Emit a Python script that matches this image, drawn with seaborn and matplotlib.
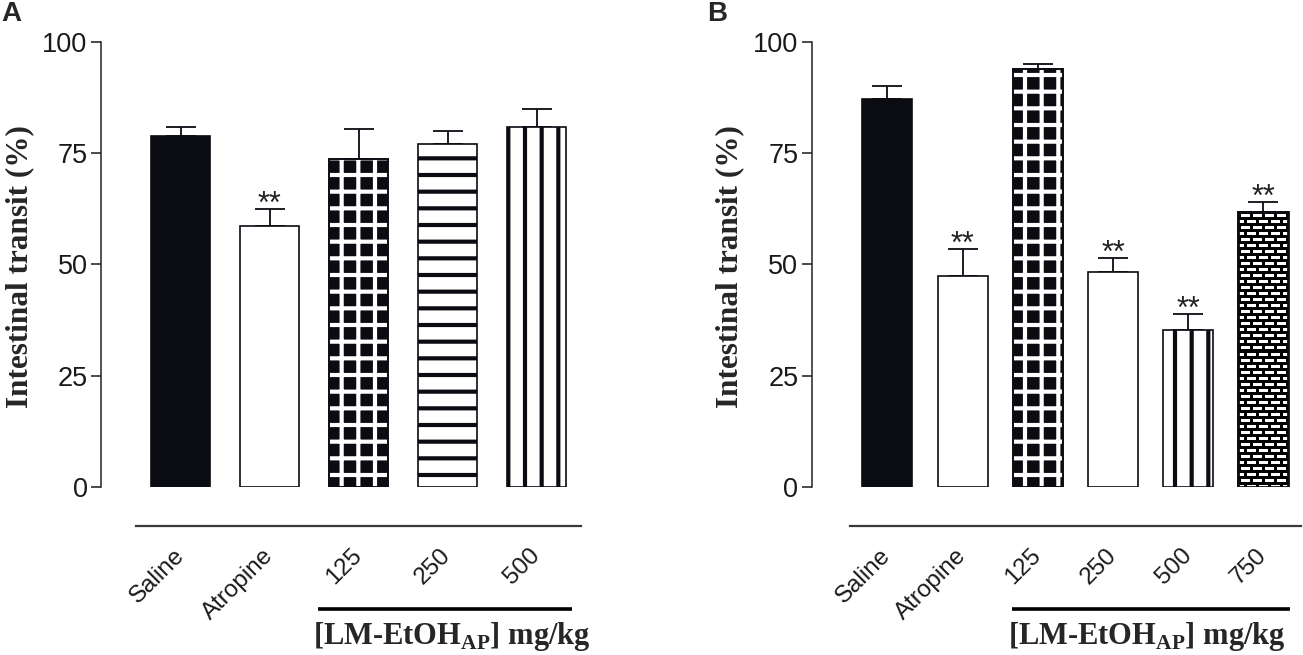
import numpy as np
import pandas as pd
import seaborn as sns
import matplotlib.pyplot as plt
from matplotlib.patches import Rectangle
from matplotlib.transforms import blended_transform_factory


# Painel A
groups_a = ["Saline", "Atropine", "125", "250", "500"]
transit_a = [78.8, 58.6, 73.7, 77.0, 80.8]
sem_a = [2.1, 3.8, 6.6, 3.0, 4.0]
stars_a = ["", "**", "", "", ""]
fill_a = ["solid", "open", "grid", "hlines", "vlines"]

# Painel B
groups_b = ["Saline", "Atropine", "125", "250", "500", "750"]
transit_b = [87.1, 47.4, 93.9, 48.2, 35.2, 61.8]
sem_b = [3.0, 6.0, 1.2, 3.2, 3.6, 2.2]
stars_b = ["", "**", "", "**", "**", "**"]
fill_b = ["solid", "open", "grid", "open", "vlines", "brick"]

dose_label = r"[LM-EtOH$_\mathrm{AP}$] mg/kg"

sns.set_style("ticks")
plt.rcParams["font.family"] = ["Liberation Sans", "DejaVu Sans"]
plt.rcParams["hatch.linewidth"] = 3.0
plt.rcParams["mathtext.fontset"] = "custom"
plt.rcParams["mathtext.rm"] = "Liberation Serif:bold"
plt.rcParams["mathtext.bf"] = "Liberation Serif:bold"

INK = "#0b0c12"


# textura de tijolos para a barra de 750 mg/kg
def brick(ax, bar):
    x0, y0 = bar.get_x(), bar.get_y()
    x1, y1 = x0 + bar.get_width(), y0 + bar.get_height()
    (px0, py0), (px1, py1) = ax.transData.transform([(x0, y0), (x1, y1)])
    w, h = int(round(px1 - px0)), int(round(py1 - py0))
    rows = np.arange(h)[:, None]
    cols = np.arange(w)[None, :]
    shift = (rows // 6) % 2 * 6
    mortar = ((rows % 6) < 3) | (((cols + shift) % 12) < 3)
    img = np.where(mortar, 0.0, 1.0)
    ax.imshow(img, cmap="gray", vmin=0, vmax=1, extent=(x0, x1, y0, y1),
              origin="upper", interpolation="nearest", aspect="auto",
              zorder=bar.get_zorder() + 0.05)
    ax.add_patch(Rectangle((x0, y0), x1 - x0, y1 - y0, fill=False,
                           edgecolor=INK, lw=2.0, zorder=bar.get_zorder() + 0.1))


def style_bars(ax, bars, fills):
    for bar, kind in zip(bars, fills):
        bar.set_edgecolor(INK)
        bar.set_linewidth(1.2)
        if kind == "solid":
            bar.set_facecolor(INK)
        elif kind == "open":
            bar.set_facecolor("white")
        elif kind == "hlines":
            bar.set_facecolor("white")
            bar.set_hatch("-")
        elif kind == "vlines":
            bar.set_facecolor("white")
            bar.set_hatch("|")
        elif kind == "grid":
            bar.set_facecolor(INK)
            bar.set_edgecolor("white")
            bar.set_hatch("+")
            bar.set_linewidth(0)
            ax.add_patch(Rectangle((bar.get_x(), bar.get_y()), bar.get_width(),
                                   bar.get_height(), fill=False, edgecolor=INK,
                                   lw=1.4, zorder=bar.get_zorder() + 0.1))
        elif kind == "brick":
            bar.set_facecolor(INK)
            brick(ax, bar)


def panel(ax, groups, transit, sem, stars, fills, span, label_x):
    n = len(groups)
    df = pd.DataFrame({"group": groups, "transit": transit})
    sns.barplot(data=df, x="group", y="transit", hue="group",
                palette=["black"] * n, legend=False, width=0.665,
                errorbar=None, saturation=1, ax=ax)
    bars = list(ax.patches)
    ax.set_xlim(-(label_x), n - 0.48)
    ax.set_ylim(0, 100)

    centers = [b.get_x() + b.get_width() / 2 for b in bars]
    ax.errorbar(centers, transit, yerr=[np.zeros(n), sem], fmt="none",
                ecolor=INK, elinewidth=1.3, capsize=10.5, capthick=1.3, zorder=0.5)
    style_bars(ax, bars, fills)

    for c, t, s, st in zip(centers, transit, sem, stars):
        if st:
            ax.text(c, t + s - 0.8, st, ha="center", va="baseline",
                    fontsize=22, color="#222222")

    # eixos no estilo GraphPad
    sns.despine(ax=ax)
    ax.spines["bottom"].set_position(("outward", 28))
    ax.spines["bottom"].set_bounds(-0.5, n - 0.5)
    ax.spines["bottom"].set_linewidth(1.6)
    ax.spines["bottom"].set_color("#3a3a3a")
    ax.spines["left"].set_linewidth(1.1)
    ax.spines["left"].set_color("#222222")
    ax.spines["left"].set_bounds(0, 100)

    ax.set_yticks([0, 25, 50, 75, 100])
    ax.tick_params(axis="y", length=7.5, width=1.1, pad=2, labelsize=19.5,
                   colors="#1a1a1a")
    ax.tick_params(axis="x", length=0, pad=19, labelsize=17.5, colors="#1a1a1a")
    for lab in ax.get_xticklabels():
        lab.set_rotation(45)
        lab.set_ha("right")
        lab.set_va("center")
        lab.set_rotation_mode("anchor")

    ax.set_xlabel("")
    ax.set_ylabel("Intestinal transit (%)", family="Liberation Serif",
                  weight="bold", fontsize=22.5)
    ax.yaxis.set_label_coords(-0.137, 0.495)

    # barra da dose do extrato
    tr = blended_transform_factory(ax.transData, ax.transAxes)
    ax.plot(span, [-0.275, -0.275], color="black", lw=2.6, transform=tr,
            clip_on=False, solid_capstyle="butt")
    ax.text(span[0] - 0.05, -0.352, dose_label, transform=tr, ha="left",
            va="baseline", family="Liberation Serif", weight="bold", fontsize=22)


fig = plt.figure(figsize=(13.03, 6.55), dpi=100)
ax_a = fig.add_axes([0.0773, 0.2565, 0.3701, 0.6798])
ax_b = fig.add_axes([0.6228, 0.2565, 0.3768, 0.6798])

panel(ax_a, groups_a, transit_a, sem_a, stars_a, fill_a, (1.54, 4.40), 0.9)
panel(ax_b, groups_b, transit_b, sem_b, stars_b, fill_b, (1.66, 5.35), 1.01)

fig.text(0.001, 0.998, "A", ha="left", va="top", fontsize=20, weight="bold")
fig.text(0.543, 0.998, "B", ha="left", va="top", fontsize=20, weight="bold")

plt.savefig("out.png", dpi=100)
